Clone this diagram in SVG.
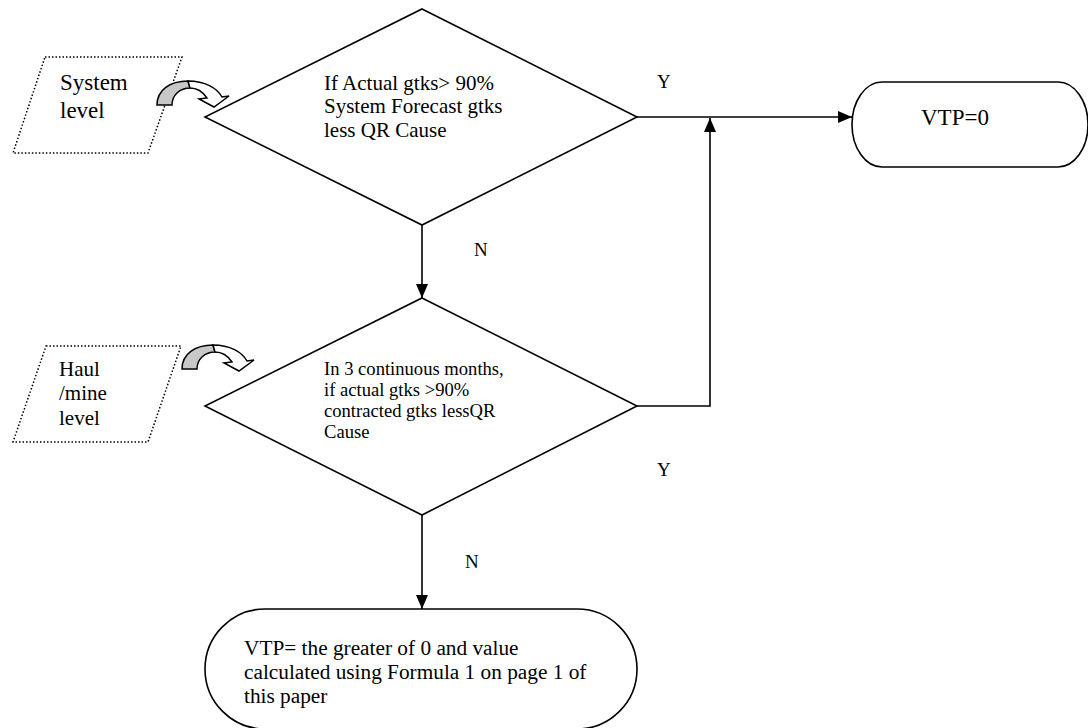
<svg xmlns="http://www.w3.org/2000/svg" width="1088" height="728" viewBox="0 0 1088 728">
<defs>
<style>
.shape{fill:#fff;stroke:#000;stroke-width:1.6}
.dotted{fill:#fff;stroke:#000;stroke-width:1.5;stroke-dasharray:1.5 2}
.conn{fill:none;stroke:#000;stroke-width:1.6}
.t{font-family:"Liberation Serif","Times New Roman",serif;fill:#000}
.gray{fill:#c8c8c8;stroke:#000;stroke-width:1.5}
.wh{fill:#fff;stroke:#000;stroke-width:1.5}
</style>
<marker id="ah" markerUnits="userSpaceOnUse" markerWidth="14" markerHeight="12" refX="14" refY="6" orient="auto">
<path d="M0,0 L14,6 L0,12 Z" fill="#000"/>
</marker>
<g id="curvedArrow">
<path class="gray" d="M157,105 C157,90 170,81 188,81 L190,88 C180,88 172,95 172,105 Z"/>
<path class="wh" d="M188,81 C205,81 217,88 222,97 L229,96 L214,107 L199,99 L207,98 C203,92 197,88 190,88 Z"/>
</g>
</defs>
<rect width="1088" height="728" fill="#fff"/>

<g id="connectors">
<line class="conn" x1="422" y1="225" x2="422" y2="298" marker-end="url(#ah)"/>
<line class="conn" x1="637" y1="117" x2="852" y2="117" marker-end="url(#ah)"/>
<polyline class="conn" points="637,406 710,406 710,118" marker-end="url(#ah)"/>
<line class="conn" x1="422" y1="515" x2="422" y2="609" marker-end="url(#ah)"/>
<text class="t" x="474" y="256" font-size="19">N</text>
<text class="t" x="465" y="568" font-size="19">N</text>
<text class="t" x="657" y="88" font-size="19">Y</text>
<text class="t" x="657" y="476" font-size="19">Y</text>
</g>

<g id="systemLevel">
<polygon class="dotted" points="45,57 182,57 148,153 13,153"/>
<text class="t" font-size="23"><tspan x="60" y="90">System</tspan><tspan x="60" y="118">level</tspan></text>
</g>
<g id="systemArrow"><use href="#curvedArrow"/></g>

<g id="haulLevel">
<polygon class="dotted" points="46,346 181,346 148,442 13,442"/>
<text class="t" font-size="21"><tspan x="59" y="376">Haul</tspan><tspan x="59" y="400">/mine</tspan><tspan x="59" y="425">level</tspan></text>
</g>
<g id="haulArrow"><use href="#curvedArrow" transform="translate(25,264)"/></g>

<g id="decision1">
<polygon class="shape" points="422,9 637,117 422,225 205,117"/>
<text class="t" font-size="21"><tspan x="324" y="90">If Actual gtks&gt; 90%</tspan><tspan x="324" y="113">System Forecast gtks</tspan><tspan x="324" y="137">less QR Cause</tspan></text>
</g>

<g id="decision2">
<polygon class="shape" points="422,298 637,406 422,515 205,406"/>
<text class="t" font-size="18.6"><tspan x="324" y="375">In 3 continuous months,</tspan><tspan x="324" y="396">if actual gtks &gt;90%</tspan><tspan x="324" y="417">contracted gtks lessQR</tspan><tspan x="324" y="438">Cause</tspan></text>
</g>

<g id="vtp0">
<path class="shape" d="M882,82 L1058,82 A30,42.5 0 0 1 1058,167 L882,167 A30,42.5 0 0 1 882,82 Z"/>
<text class="t" x="921" y="125" font-size="23">VTP=0</text>
</g>

<g id="vtpFormula">
<path class="shape" d="M265,609 L577,609 A60,60 0 0 1 577,729 L265,729 A60,60 0 0 1 265,609 Z"/>
<text class="t" font-size="21.3"><tspan x="244" y="655">VTP= the greater of 0 and value</tspan><tspan x="244" y="679">calculated using Formula 1 on page 1 of</tspan><tspan x="244" y="703">this paper</tspan></text>
</g>
</svg>
